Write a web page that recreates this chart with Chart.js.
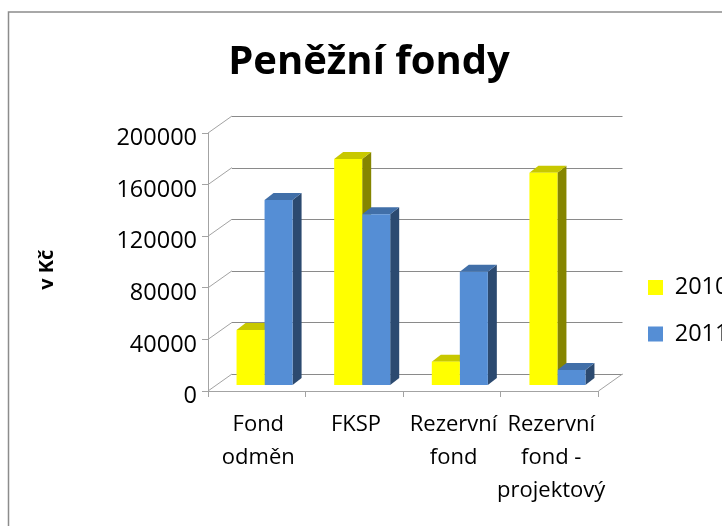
<!DOCTYPE html>
<html>
<head>
<meta charset="utf-8">
<title>Peněžní fondy</title>
<script src="https://cdn.jsdelivr.net/npm/chart.js@4"></script>
<style>
  body { margin: 0; background: #fff; overflow: hidden; }
</style>
</head>
<body>
<canvas id="myChart" width="722" height="526"></canvas>
<script>
const categories = [['Fond', 'odměn'], 'FKSP', ['Rezervní', 'fond'], ['Rezervní', 'fond -', 'projektový']];
const values2010 = [43000, 175600, 18500, 165000];
const values2011 = [143800, 132700, 88200, 12000];
const yMax = 200000;
const yStep = 40000;

const fontName = '"Open Sans", sans-serif';
const axisGrey = '#a3a3a3';
const gridGrey = '#8a8a8a';

// pseudo 3D: back wall offset and bar placement/depth, in pixels
const wallDx = 24, wallDy = -17;
const barDx = 7.75, barDy = -5.5;
const depthDx = 9, depthDy = -7;

var drawBarDepth = function(chart, index) {
	var ctx = chart.ctx, ds = chart.data.datasets[index];
	chart.getDatasetMeta(index).data.forEach(function(bar) {
		var left = bar.x - bar.width / 2, right = bar.x + bar.width / 2;
		ctx.fillStyle = ds.sideColor;
		ctx.beginPath();
		ctx.moveTo(right, bar.y);
		ctx.lineTo(right + depthDx, bar.y + depthDy);
		ctx.lineTo(right + depthDx, bar.base + depthDy);
		ctx.lineTo(right, bar.base);
		ctx.closePath();
		ctx.fill();
		ctx.fillStyle = ds.topColor;
		ctx.beginPath();
		ctx.moveTo(left, bar.y);
		ctx.lineTo(left + depthDx, bar.y + depthDy);
		ctx.lineTo(right + depthDx, bar.y + depthDy);
		ctx.lineTo(right, bar.y);
		ctx.closePath();
		ctx.fill();
	});
};

var frame3d = {
	id: 'frame3d',
	beforeDraw: function(chart) {
		var ctx = chart.ctx;
		ctx.save();
		ctx.fillStyle = '#fff';
		ctx.fillRect(0, 0, chart.width, chart.height);
		ctx.strokeStyle = '#8c8c8c';
		ctx.lineWidth = 1.5;
		ctx.strokeRect(8.5, 12, 800, 600);
		ctx.restore();
	},
	afterLayout: function(chart) {
		// legend keeps its place in the layout, only the drawing moves (it clips to these)
		chart.legend.left = 625;
		chart.legend.right = 740;
		chart.legend.top = 252.75;
		chart.legend.bottom = 400;
	},
	beforeDatasetsDraw: function(chart) {
		var ctx = chart.ctx, yScale = chart.scales.y, area = chart.chartArea;
		ctx.save();
		ctx.lineWidth = 1;
		yScale.ticks.forEach(function(tick) {
			var y = yScale.getPixelForValue(tick.value);
			ctx.strokeStyle = axisGrey;
			ctx.beginPath();
			ctx.moveTo(area.left, y);
			ctx.lineTo(area.left + wallDx, y + wallDy);
			ctx.stroke();
			ctx.strokeStyle = gridGrey;
			ctx.beginPath();
			ctx.moveTo(area.left + wallDx, Math.round(y + wallDy) + 0.5);
			ctx.lineTo(area.right + wallDx, Math.round(y + wallDy) + 0.5);
			ctx.stroke();
		});
		ctx.strokeStyle = axisGrey;
		ctx.beginPath();
		ctx.moveTo(area.right, area.bottom);
		ctx.lineTo(area.right + wallDx, area.bottom + wallDy);
		ctx.stroke();
		// depth faces go first, the library then paints the bar fronts over them
		ctx.translate(barDx, barDy);
		drawBarDepth(chart, 0);
		drawBarDepth(chart, 1);
		ctx.restore();
	},
	beforeDatasetDraw: function(chart) {
		chart.ctx.save();
		chart.ctx.translate(barDx, barDy);
	},
	afterDatasetDraw: function(chart) {
		chart.ctx.restore();
	}
};

var ctx = document.getElementById('myChart');
var myChart = new Chart(ctx, {
	type: 'bar',
	data: {
		labels: categories,
		datasets: [
			{label: '2010', data: values2010, backgroundColor: '#ffff00', topColor: '#c8c800', sideColor: '#858500', clip: false},
			{label: '2011', data: values2011, backgroundColor: '#558ed5', topColor: '#416fa8', sideColor: '#2c4a70', clip: false}
		]
	},
	plugins: [frame3d],
	options: {
		responsive: false,
		animation: false,
		layout: {padding: {left: 26, right: 10, top: 0, bottom: 0}},
		categoryPercentage: 0.574,
		barPercentage: 1,
		plugins: {
			tooltip: {enabled: false},
			title: {
				display: true,
				text: 'Peněžní fondy',
				color: '#000',
				font: {family: fontName, size: 40, weight: 'bold'},
				padding: {top: 39, bottom: 46}
			},
			legend: {
				position: 'right',
				align: 'start',
				maxWidth: 124,
				labels: {
					boxWidth: 15,
					boxHeight: 15,
					padding: 23,
					color: '#000',
					font: {family: fontName, size: 23.5}
				}
			}
		},
		scales: {
			x: {
				afterFit: function(scale) { scale.height = 135; },
				grid: {drawOnChartArea: false, color: axisGrey, tickLength: 6},
				border: {color: axisGrey},
				ticks: {
					autoSkip: false,
					maxRotation: 0,
					minRotation: 0,
					padding: 11,
					labelOffset: 1.5,
					color: '#000',
					font: {family: fontName, size: 22, lineHeight: 1.5}
				}
			},
			y: {
				min: 0,
				max: yMax,
				afterFit: function(scale) { scale.width = 182; },
				grid: {drawOnChartArea: false, color: axisGrey, tickLength: 6},
				border: {color: axisGrey},
				ticks: {
					stepSize: yStep,
					padding: 5,
					labelOffset: 5.5,
					format: {useGrouping: false},
					color: '#000',
					font: {family: fontName, size: 23.5}
				},
				title: {
					display: true,
					text: 'v Kč   ',
					color: '#000',
					font: {family: fontName, size: 20, weight: 'bold'},
					padding: {top: 9, bottom: 0}
				}
			}
		}
	}
});
</script>
</body>
</html>
